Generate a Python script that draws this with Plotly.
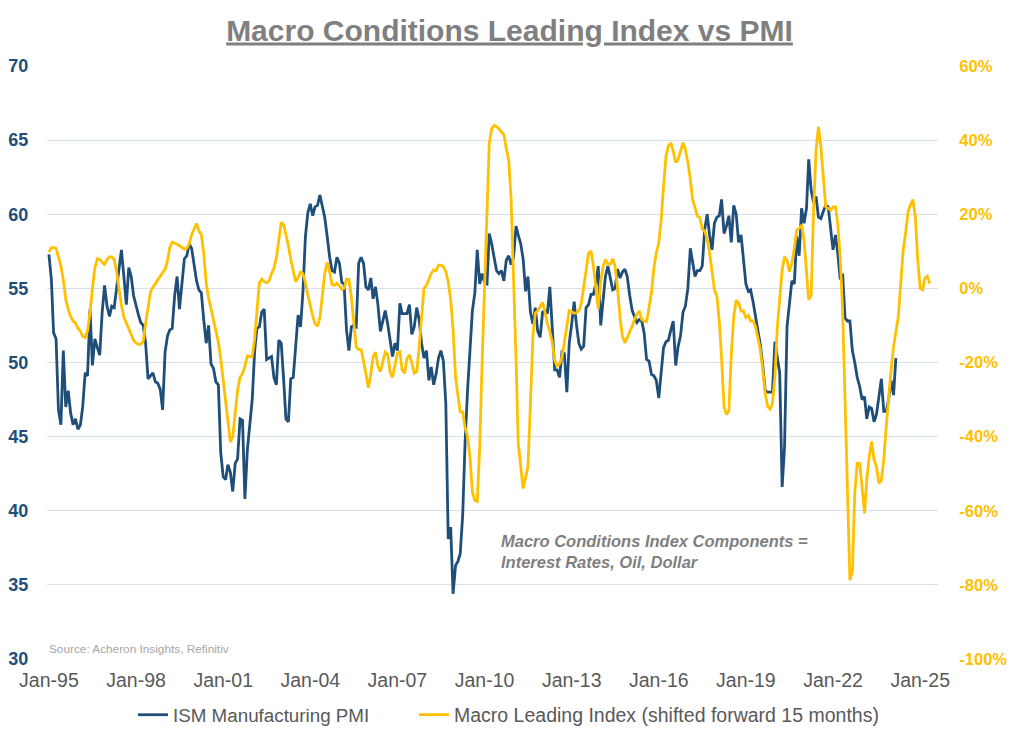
import pandas as pd
import plotly.graph_objects as go

# ISM Manufacturing PMI, monthly from Jan-1995
pmi = [
    57.3, 55.6, 52.0, 51.6, 46.8, 45.8, 50.8, 47.0, 48.1, 46.6, 45.8, 46.2,  # 1995
    45.5, 45.8, 47.0, 49.3, 49.1, 53.6, 49.8, 51.6, 51.0, 50.5, 53.4, 55.2,  # 1996
    53.8, 53.1, 53.8, 53.7, 55.0, 56.3, 57.6, 55.8, 53.9, 56.4, 55.8, 54.5,  # 1997
    53.8, 53.2, 52.7, 52.5, 51.3, 48.9, 49.1, 49.3, 48.7, 48.6, 48.2, 46.8,  # 1998
    50.7, 51.8, 52.2, 52.3, 54.5, 55.8, 53.6, 55.6, 57.0, 57.2, 58.0, 57.7,  # 1999
    56.5, 55.5, 54.9, 54.7, 52.9, 51.3, 52.5, 49.9, 49.6, 48.7, 48.5, 43.9,  # 2000
    42.3, 42.1, 43.1, 42.6, 41.3, 43.2, 43.5, 46.2, 46.1, 40.8, 44.1, 45.7,  # 2001
    47.5, 50.8, 52.3, 52.4, 53.4, 53.6, 50.2, 50.3, 50.4, 49.0, 48.5, 51.5,  # 2002
    51.3, 48.8, 46.2, 46.0, 48.9, 49.0, 51.3, 53.2, 52.4, 54.8, 58.5, 60.1,  # 2003
    60.7, 59.9, 60.5, 60.6, 61.3, 60.4, 59.8, 58.5, 57.1, 56.2, 56.1, 57.1,  # 2004
    56.7, 55.4, 55.3, 52.2, 50.8, 52.4, 52.5, 52.4, 56.7, 57.1, 56.7, 55.1,  # 2005
    54.9, 55.7, 54.3, 55.1, 53.9, 52.1, 52.9, 53.5, 52.6, 51.5, 50.4, 51.3,  # 2006
    50.8, 54.0, 53.3, 53.3, 53.3, 53.9, 51.9, 52.4, 53.7, 52.9, 51.3, 50.3,  # 2007
    50.8, 48.8, 49.7, 48.5, 49.2, 50.3, 50.8, 50.1, 47.2, 38.1, 38.9, 34.4,  # 2008
    36.3, 36.6, 37.1, 39.7, 44.6, 48.1, 50.8, 53.5, 54.7, 57.6, 55.3, 56.0,  # 2009
    55.4, 55.3, 58.7, 58.0, 57.1, 56.2, 56.0, 56.2, 55.5, 56.9, 57.2, 56.6,  # 2010
    57.1, 59.2, 58.6, 58.0, 57.0, 54.8, 55.8, 53.4, 52.6, 53.7, 52.1, 51.7,  # 2011
    53.4, 53.5, 53.3, 55.1, 52.4, 49.5, 49.5, 49.0, 50.7, 50.6, 48.0, 51.3,  # 2012
    52.6, 54.1, 52.6, 51.3, 50.9, 51.1, 53.7, 53.9, 54.6, 54.6, 55.3, 56.5,  # 2013
    52.5, 54.5, 55.8, 56.5, 55.8, 54.9, 55.0, 56.3, 55.7, 56.1, 56.3, 55.8,  # 2014
    54.5, 53.5, 53.1, 52.7, 52.9, 52.8, 52.0, 50.2, 50.1, 49.2, 49.1, 48.8,  # 2015
    47.6, 49.3, 51.0, 51.4, 51.5, 52.2, 52.8, 49.8, 51.1, 51.8, 53.4, 53.8,  # 2016
    55.0, 57.7, 56.9, 55.8, 56.2, 56.2, 56.5, 59.0, 60.0, 58.6, 57.6, 59.4,  # 2017
    59.8, 59.9, 61.0, 58.7, 59.2, 59.9, 58.1, 60.6, 60.0, 58.1, 58.6, 56.9,  # 2018
    55.3, 54.8, 54.9, 54.1, 53.1, 52.0, 51.2, 49.8, 48.1, 48.0, 48.0, 48.0,  # 2019
    51.4, 50.4, 49.3, 41.6, 44.3, 52.4, 54.0, 55.5, 55.3, 58.5, 57.2, 60.4,  # 2020
    59.4, 60.4, 63.7, 61.6, 60.8, 61.2, 59.8, 59.7, 60.2, 60.6, 60.5, 59.0,  # 2021
    57.6, 58.6, 57.4, 55.6, 56.0, 53.0, 52.8, 52.8, 50.8, 50.0, 49.0, 48.4,  # 2022
    47.5, 47.7, 46.2, 47.0, 46.9, 46.0, 46.5, 47.7, 48.9, 46.7, 46.7, 47.5,  # 2023
    48.8, 47.8, 50.3,                                                        # 2024
]

# Macro Leading Index (shifted forward 15 months), %, monthly from Jan-1995
macro = [
    9.8, 11.0, 11.0, 10.8, 8.5, 6.0, 2.4, -3.0, -5.7, -7.6, -8.8, -9.3,          # 1995
    -10.8, -11.5, -13.0, -13.3, -11.5, -6.5, 0.0, 5.5, 8.0, 7.8, 7.0, 6.5,       # 1996
    7.8, 8.5, 8.5, 7.8, 4.5, -0.5, -4.5, -7.8, -9.4, -10.8, -12.5, -14.0,        # 1997
    -14.8, -15.1, -15.1, -14.3, -9.5, -5.0, -1.0, 0.4, 1.2, 2.3, 3.4, 4.3,       # 1998
    5.2, 7.5, 11.0, 12.5, 12.3, 11.9, 11.5, 11.0, 10.6, 10.8, 12.0, 14.5,        # 1999
    16.0, 17.5, 15.5, 14.5, 9.5, 1.5, -2.5, -5.5, -8.5, -11.5, -14.5, -19.0,     # 2000
    -24.5, -30.5, -36.0, -41.5, -40.0, -33.0, -27.5, -24.0, -23.0, -21.0, -18.2, -18.4,  # 2001
    -18.4, -13.5, -6.5, 1.5, 2.5, 1.8, 1.5, 2.0, 4.0, 5.4, 8.3, 12.5,            # 2002
    17.8, 17.2, 14.8, 11.5, 7.8, 4.3, 1.8, 3.0, 4.4, 4.0, 1.5, -1.8,             # 2003
    -5.0, -7.5, -9.5, -10.2, -8.0, -1.0, 4.0, 7.0, 4.5, 1.0, 0.8, 1.4,           # 2004
    0.7, -0.3, 0.0, 2.5, 2.4, -2.5, -10.0, -15.8, -16.5, -16.5, -19.5, -23.0,    # 2005
    -26.8, -23.0, -18.5, -17.2, -21.0, -22.5, -19.5, -17.2, -17.8, -22.5, -24.0, -20.5,  # 2006
    -17.5, -17.1, -22.0, -22.9, -19.0, -18.0, -20.0, -22.9, -22.5, -16.0, -7.0, 0.0,     # 2007
    0.8, 2.5, 4.0, 5.0, 4.8, 6.3, 6.3, 5.9, 4.5, 1.8, -3.0, -11.0,               # 2008
    -24.0, -29.0, -33.3, -33.3, -37.5, -40.0, -45.4, -55.0, -57.2, -57.5, -43.0, -20.0,  # 2009
    0.0, 20.0, 39.1, 43.1, 44.0, 43.6, 43.1, 42.2, 41.5, 37.8, 34.5, 24.0,       # 2010
    5.0, -19.3, -41.8, -49.0, -54.0, -51.0, -48.0, -31.0, -13.0, -6.7, -6.0, -4.9,       # 2011
    -3.8, -6.5, -9.5, -11.5, -14.5, -19.5, -20.9, -20.3, -18.5, -14.5, -9.6, -6.0,       # 2012
    -6.3, -6.7, -6.6, -6.0, -4.2, 0.2, 5.5, 9.5, 10.1, 6.0, 0.0, -5.5,           # 2013
    2.0, 6.0, 7.8, 6.6, 6.5, 8.0, 6.0, 0.0, -8.0, -12.9, -14.7, -13.2,           # 2014
    -12.0, -10.2, -8.5, -7.0, -6.1, -8.4, -8.8, -9.0, -5.0, -1.2, 5.5, 9.6,      # 2015
    12.3, 18.6, 27.6, 35.7, 38.4, 39.3, 37.0, 34.0, 34.8, 37.0, 39.3, 37.5,      # 2016
    34.0, 29.4, 24.0, 21.8, 19.5, 19.1, 16.0, 15.5, 13.2, 9.6, 4.2, -0.3,        # 2017
    -2.1, -9.0, -19.0, -32.0, -34.0, -33.0, -18.0, -7.5, -3.2, -3.9, -6.1, -6.1, # 2018
    -7.9, -7.3, -8.8, -8.8, -10.2, -13.0, -16.5, -22.0, -28.3, -31.9, -32.6, -31.0,      # 2019
    -23.8, -10.3, -2.2, 5.1, 8.5, 7.6, 4.5, 6.7, 10.8, 15.7, 16.2, 17.1,         # 2020
    13.0, 5.0, -3.1, -1.8, 21.1, 37.3, 43.6, 38.2, 30.1, 22.0, 21.6, 21.1,       # 2021
    22.0, 22.0, 17.5, 8.5, -5.8, -31.0, -59.8, -78.7, -76.4, -55.3, -47.2, -47.2,        # 2022
    -53.5, -60.7, -51.7, -45.4, -41.3, -46.3, -48.1, -52.6, -51.7, -46.3, -37.3, -29.2,  # 2023
    -22.0, -15.7, -11.2, -7.6, 1.3, 10.3, 14.8, 20.7, 22.5, 24.0, 19.3, 7.6,     # 2024
    0.0, -0.4, 2.7, 3.3, 1.3,                                                    # 2025
]

series_names = ["ISM Manufacturing PMI", "Macro Leading Index (shifted forward 15 months)"]
title_text = "Macro Conditions Leading Index vs PMI"
note_lines = ["Macro Conditions Index Components =", "Interest Rates, Oil, Dollar"]
source_text = "Source: Acheron Insights, Refinitiv"
right_tick_vals = [-100, -80, -60, -40, -20, 0, 20, 40, 60]
right_tick_text = ["-100%", "-80%", "-60%", "-40%", "-20%", "0%", "20%", "40%", "60%"]

pmi_dates = pd.date_range("1995-01-01", periods=len(pmi), freq="MS")
macro_dates = pd.date_range("1995-01-01", periods=len(macro), freq="MS")

BLUE = "#1F4E79"
GOLD = "#FFC000"
GREY = "#595959"
SANS = "Liberation Sans, Arial, sans-serif"

fig = go.Figure()
fig.add_trace(go.Scatter(x=pmi_dates, y=pmi, name=series_names[0], mode="lines",
                         line=dict(color=BLUE, width=2.8), yaxis="y", legend="legend"))
fig.add_trace(go.Scatter(x=macro_dates, y=macro, name=series_names[1], mode="lines",
                         line=dict(color=GOLD, width=2.8), yaxis="y2", legend="legend2"))

legend_common = dict(orientation="h", xanchor="left", y=(659 - 715) / 593, yanchor="middle",
                     bgcolor="rgba(0,0,0,0)")

fig.update_layout(
    width=1019, height=739,
    margin=dict(l=47, r=81, t=66, b=80, autoexpand=False),
    paper_bgcolor="white", plot_bgcolor="white",
    showlegend=True,
    title=dict(text="<b><u>" + title_text + "</u></b>", x=0.5, xanchor="center",
               y=1 - 30 / 739, yanchor="middle", yref="container",
               font=dict(family=SANS, size=30, color="#7F7F7F")),
    xaxis=dict(type="date", range=["1994-12-08", "2025-08-13"], tick0="1995-01-01",
               dtick="M36", tickformat="%b-%y", showgrid=False, zeroline=False,
               showline=False, ticks="outside", ticklen=4, tickcolor="rgba(0,0,0,0)",
               automargin=False,
               tickfont=dict(family=SANS, size=19.5, color=GREY)),
    yaxis=dict(range=[30, 70], dtick=5, showgrid=True, gridcolor="#D6DFEA", gridwidth=1,
               zeroline=False, showline=False, ticks="outside", ticklen=14,
               tickcolor="rgba(0,0,0,0)", automargin=False,
               tickfont=dict(family=SANS, size=18, color=BLUE, weight="bold")),
    yaxis2=dict(overlaying="y", side="right", range=[-100, 60],
                tickmode="array", tickvals=right_tick_vals, ticktext=right_tick_text,
                showgrid=False, zeroline=False, showline=False, ticks="outside",
                ticklen=17, tickcolor="rgba(0,0,0,0)", automargin=False,
                tickfont=dict(family=SANS, size=16.5, color=GOLD, weight="bold")),
    legend=dict(x=(133 - 47) / 891, font=dict(family=SANS, size=18.8, color=GREY),
                **legend_common),
    legend2=dict(x=(414 - 47) / 891, font=dict(family=SANS, size=19.5, color=GREY),
                 **legend_common),
    annotations=[
        dict(text="<b><i>" + "<br>".join(note_lines) + "</i></b>", xref="paper", yref="paper",
             x=(499 - 47) / 891, y=(659 - 551) / 593, xanchor="left", yanchor="middle",
             align="left", showarrow=False,
             font=dict(family=SANS, size=16.5, color="#7F7F7F")),
        dict(text=source_text, xref="paper", yref="paper", x=0.0,
             y=(659 - 649) / 593, xanchor="left", yanchor="middle", showarrow=False,
             font=dict(family=SANS, size=11.8, color="#A6A6A6")),
    ],
)

fig.write_html("out.html", config={"displayModeBar": False},
               post_script="document.body.style.margin='0';document.body.style.overflow='hidden';")
